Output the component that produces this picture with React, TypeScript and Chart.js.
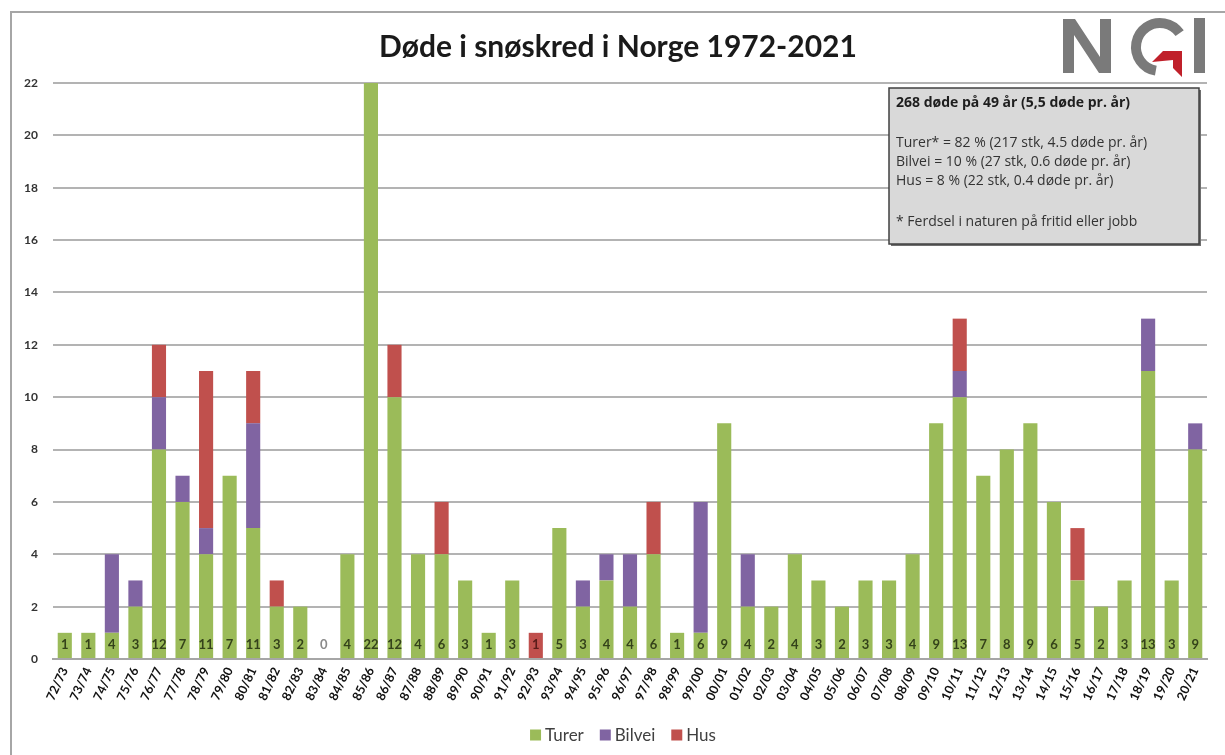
import React, { useEffect, useRef } from "react";
import { Chart, registerables } from "chart.js";

Chart.register(...registerables);

const seasons = [
  "72/73", "73/74", "74/75", "75/76", "76/77", "77/78", "78/79", "79/80", "80/81", "81/82",
  "82/83", "83/84", "84/85", "85/86", "86/87", "87/88", "88/89", "89/90", "90/91", "91/92",
  "92/93", "93/94", "94/95", "95/96", "96/97", "97/98", "98/99", "99/00", "00/01", "01/02",
  "02/03", "03/04", "04/05", "05/06", "06/07", "07/08", "08/09", "09/10", "10/11", "11/12",
  "12/13", "13/14", "14/15", "15/16", "16/17", "17/18", "18/19", "19/20", "20/21",
];

const turer = [
  1, 1, 1, 2, 8, 6, 4, 7, 5, 2,
  2, 0, 4, 22, 10, 4, 4, 3, 1, 3,
  0, 5, 2, 3, 2, 4, 1, 1, 9, 2,
  2, 4, 3, 2, 3, 3, 4, 9, 10, 7,
  8, 9, 6, 3, 2, 3, 11, 3, 8,
];

const bilvei = [
  0, 0, 3, 1, 2, 1, 1, 0, 4, 0,
  0, 0, 0, 0, 0, 0, 0, 0, 0, 0,
  0, 0, 1, 1, 2, 0, 0, 5, 0, 2,
  0, 0, 0, 0, 0, 0, 0, 0, 1, 0,
  0, 0, 0, 0, 0, 0, 2, 0, 1,
];

const hus = [
  0, 0, 0, 0, 2, 0, 6, 0, 2, 1,
  0, 0, 0, 0, 2, 0, 2, 0, 0, 0,
  1, 0, 0, 0, 0, 2, 0, 0, 0, 0,
  0, 0, 0, 0, 0, 0, 0, 0, 2, 0,
  0, 0, 0, 2, 0, 0, 0, 0, 0,
];

const seriesNames = ["Turer", "Bilvei", "Hus"];
const seriesColors = ["#9bbb59", "#8064a2", "#c0504d"];

const titleText = "Døde i snøskred i Norge 1972-2021";
const infoHeader = "268 døde på 49 år (5,5 døde pr. år)";
const infoLines = [
  "Turer* = 82 % (217 stk, 4.5 døde pr. år)",
  "Bilvei = 10 % (27 stk, 0.6 døde pr. år)",
  "Hus = 8 % (22 stk, 0.4 døde pr. år)",
];
const infoFoot = "* Ferdsel i naturen på fritid eller jobb";

const FONT = "Lato, 'Open Sans', sans-serif";
const BOXFONT = "'Open Sans', Lato, sans-serif";

const decorPlugin = {
  id: "decor",
  beforeDraw(chart: any) {
    const ctx = chart.ctx;
    ctx.save();
    ctx.fillStyle = "#ffffff";
    ctx.fillRect(0, 0, chart.width, chart.height);
    ctx.strokeStyle = "#a6a6a6";
    ctx.lineWidth = 2;
    ctx.beginPath();
    ctx.moveTo(11, 755);
    ctx.lineTo(11, 12);
    ctx.lineTo(1225, 12);
    ctx.stroke();
    ctx.restore();
  },
  afterDatasetsDraw(chart: any) {
    const ctx = chart.ctx;
    const xs = chart.scales.x;
    const ys = chart.scales.y;
    ctx.save();
    ctx.font = `bold 13px ${FONT}`;
    ctx.textAlign = "center";
    ctx.textBaseline = "middle";
    const base = ys.getPixelForValue(0);
    for (let i = 0; i < seasons.length; i++) {
      const total = turer[i] + bilvei[i] + hus[i];
      const x = xs.getPixelForValue(i);
      if (total === 0) ctx.fillStyle = "#8a8a8a";
      else if (turer[i] === 0) ctx.fillStyle = "#5a1c1a";
      else ctx.fillStyle = "#34421a";
      ctx.fillText(String(total), x, base - 14);
    }
    ctx.restore();
  },
  afterDraw(chart: any) {
    const ctx = chart.ctx;
    ctx.save();
    // title
    ctx.fillStyle = "#1a1a1a";
    ctx.font = `bold 100px ${FONT}`;
    const tw = ctx.measureText(titleText).width;
    const tsize = Math.round((100 * 480) / tw);
    ctx.font = `bold ${tsize}px ${FONT}`;
    ctx.textAlign = "center";
    ctx.textBaseline = "middle";
    ctx.fillText(titleText, 618, 47);

    // info box
    const bx = 889, by = 88, bw = 310, bh = 156;
    ctx.fillStyle = "#6f6f6f";
    ctx.fillRect(bx + 2, by + 2, bw, bh);
    ctx.fillStyle = "#d9d9d9";
    ctx.fillRect(bx, by, bw, bh);
    ctx.strokeStyle = "#404040";
    ctx.lineWidth = 1.5;
    ctx.strokeRect(bx, by, bw, bh);
    ctx.textAlign = "left";
    ctx.fillStyle = "#1e1e1e";
    ctx.font = `bold 14px ${BOXFONT}`;
    ctx.fillText(infoHeader, 896, 103);
    ctx.font = `14px ${BOXFONT}`;
    ctx.fillStyle = "#333";
    infoLines.forEach((t, k) => ctx.fillText(t, 896, 143 + k * 19));
    ctx.fillText(infoFoot, 896, 222);

    // legend
    ctx.font = `17px ${FONT}`;
    ctx.textBaseline = "middle";
    const widths = seriesNames.map((n) => ctx.measureText(n).width);
    const box = 11, gap = 4, sep = 16;
    const total = widths.reduce((a, w) => a + box + gap + w, 0) + sep * (seriesNames.length - 1);
    let lx = 623 - total / 2;
    const ly = 735;
    seriesNames.forEach((n, k) => {
      ctx.fillStyle = seriesColors[k];
      ctx.fillRect(lx, ly - box / 2, box, box);
      ctx.fillStyle = "#404040";
      ctx.fillText(n, lx + box + gap, ly + 1);
      lx += box + gap + widths[k] + sep;
    });

    // logo
    ctx.fillStyle = "#7a7a7a";
    ctx.strokeStyle = "#7a7a7a";
    ctx.beginPath();
    ctx.moveTo(1063, 73);
    ctx.lineTo(1063, 19);
    ctx.lineTo(1075, 19);
    ctx.lineTo(1100, 57);
    ctx.lineTo(1100, 19);
    ctx.lineTo(1111, 19);
    ctx.lineTo(1111, 73);
    ctx.lineTo(1099, 73);
    ctx.lineTo(1074, 35);
    ctx.lineTo(1074, 73);
    ctx.closePath();
    ctx.fill();
    ctx.lineWidth = 10;
    ctx.beginPath();
    ctx.arc(1160, 47, 24, (-35 * Math.PI) / 180, (100 * Math.PI) / 180, true);
    ctx.stroke();
    ctx.fillRect(1194, 18, 11, 55);
    ctx.fillStyle = "#c0202a";
    ctx.beginPath();
    ctx.moveTo(1152, 62);
    ctx.lineTo(1163, 51);
    ctx.lineTo(1182, 51);
    ctx.lineTo(1182, 77);
    ctx.lineTo(1173, 68);
    ctx.lineTo(1173, 60);
    ctx.closePath();
    ctx.fill();
    ctx.restore();
  },
};

export default function App() {
  const ref = useRef<HTMLCanvasElement | null>(null);
  useEffect(() => {
    document.body.style.margin = "0";
    const canvas = ref.current!;
    const chart = new Chart(canvas, {
      type: "bar",
      data: {
        labels: seasons,
        datasets: [
          { label: seriesNames[0], data: turer, backgroundColor: seriesColors[0], borderWidth: 0 },
          { label: seriesNames[1], data: bilvei, backgroundColor: seriesColors[1], borderWidth: 0 },
          { label: seriesNames[2], data: hus, backgroundColor: seriesColors[2], borderWidth: 0 },
        ],
      },
      options: {
        responsive: false,
        animation: false,
        devicePixelRatio: 1,
        layout: { padding: { left: 10, top: 83, right: 18, bottom: 0 } },
        datasets: { bar: { barPercentage: 0.6, categoryPercentage: 1 } },
        plugins: {
          legend: { display: false },
          title: { display: false },
          tooltip: { enabled: false },
        },
        scales: {
          x: {
            stacked: true,
            grid: { display: false, drawTicks: false },
            border: { display: true, color: "#a6a6a6", width: 2 },
            ticks: {
              autoSkip: false,
              minRotation: 65,
              maxRotation: 65,
              padding: 6,
              color: "#111",
              font: { family: FONT, size: 12.5, weight: "bold" },
            },
            afterFit: (s: any) => {
              s.height = 96;
            },
          },
          y: {
            stacked: true,
            min: 0,
            max: 22,
            ticks: {
              stepSize: 2,
              padding: 15,
              color: "#333",
              font: { family: FONT, size: 12, weight: "bold" },
            },
            grid: { color: "#b3b3b3", lineWidth: 2, drawTicks: false },
            border: { display: false },
            afterFit: (s: any) => {
              s.width = 43;
            },
          },
        },
      },
      plugins: [decorPlugin],
    });
    return () => chart.destroy();
  }, []);
  return (
    <div style={{ position: "fixed", left: 0, top: 0 }}>
      <canvas ref={ref} width={1225} height={755} style={{ display: "block" }} />
    </div>
  );
}
